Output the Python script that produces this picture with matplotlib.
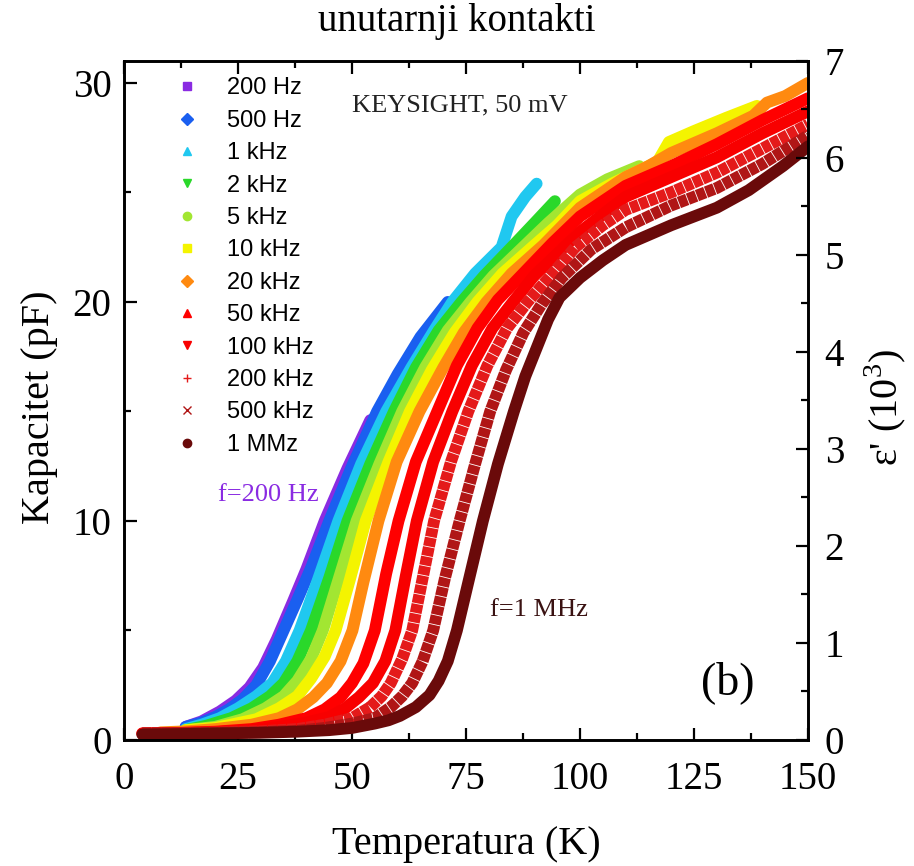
import matplotlib
matplotlib.use("Agg")
import matplotlib.pyplot as plt
from matplotlib.lines import Line2D
from matplotlib.ticker import MultipleLocator

# ---- data: temperature (K) and capacitance (pF) for each measuring frequency ----
labels = ["200 Hz", "500 Hz", "1 kHz", "2 kHz", "5 kHz", "10 kHz",
          "20 kHz", "50 kHz", "100 kHz", "200 kHz", "500 kHz", "1 MMz"]
colors = ["#8a2be2", "#1a5ff0", "#20c8f0", "#2ad82a", "#a2e632", "#f4f400",
          "#ff8a10", "#ff0000", "#f80000", "#e41a1a", "#b01616", "#6a0a0a"]
markers = ["s", "D", "^", "v", "o", "s", "D", "^", "v", "+", "x", "o"]

t_200hz = [13.5, 17, 21, 24.5, 27.5, 30.5, 33.5, 37, 40, 44, 49, 54]
c_200hz = [0.6, 0.85, 1.3, 1.8, 2.4, 3.3, 4.6, 6.3, 7.8, 10.0, 12.4, 14.6]

t_500hz = [13.5, 17, 20, 23, 26, 29, 32, 35, 38, 41, 45, 50, 55.5, 60, 65, 71]
c_500hz = [0.6, 0.8, 1.05, 1.4, 1.85, 2.5, 3.6, 5.0, 6.4, 7.85, 10.0, 12.5, 15.0, 16.7, 18.4, 20.0]

t_1khz = [13.5, 17, 21, 25, 29, 32.5, 35.5, 38.5, 42.5, 47, 52, 57.5, 63, 68, 72, 77,
          82.8, 85, 88, 90.5]
c_1khz = [0.5, 0.7, 1.0, 1.45, 2.0, 2.6, 3.6, 5.0, 7.3, 10.0, 12.6, 15.0, 17.0, 18.7, 20.0,
          21.3, 22.5, 23.9, 24.8, 25.4]

t_2khz = [13.5, 18, 23.5, 28, 32, 35, 38, 41, 45, 49, 54, 59.2, 64, 69, 74, 79, 85, 90, 94.5]
c_2khz = [0.45, 0.65, 1.0, 1.45, 2.0, 2.6, 3.6, 5.0, 7.4, 10.0, 12.6, 15.0, 17.0, 18.7, 20.0,
          21.2, 22.5, 23.6, 24.6]

t_5khz = [13.5, 20, 26, 31, 35, 38, 41, 43.6, 47, 51, 56, 61, 66, 71, 76, 81, 87.5, 93,
          100, 106, 113]
c_5khz = [0.45, 0.6, 0.95, 1.45, 2.0, 2.7, 3.7, 5.0, 7.3, 10.0, 12.6, 15.0, 17.0, 18.7, 20.0,
          21.2, 22.5, 23.6, 24.9, 25.6, 26.2]

t_10khz = [13.5, 20, 29, 34, 38, 41, 44, 46.4, 49.5, 53, 58, 62.7, 67.5, 72.5, 77.5, 83,
           89.5, 95, 100, 107, 113, 117, 119.5, 125, 132, 138.8]
c_10khz = [0.45, 0.55, 0.95, 1.45, 2.0, 2.8, 3.8, 5.0, 7.3, 10.0, 12.7, 15.0, 16.9, 18.6, 20.0,
           21.3, 22.5, 23.5, 24.6, 25.4, 26.0, 26.4, 27.3, 27.8, 28.4, 28.95]

t_20khz = [8, 14, 20, 28, 34, 38, 41.5, 44.5, 47.5, 50.1, 52.5, 55.8, 59.8, 64.8, 70, 74.5,
           79.5, 85, 92, 100, 110, 115, 120, 130, 138, 141, 145, 150]
c_20khz = [0.35, 0.4, 0.5, 0.7, 1.0, 1.4, 1.95, 2.6, 3.6, 5.0, 7.2, 10.0, 12.7, 15.0, 17.0,
           18.6, 20.0, 21.3, 22.6, 24.3, 25.7, 26.2, 26.8, 27.7, 28.5, 29.1, 29.4, 30.0]

t_50khz = [4, 12, 20, 28, 34, 40, 44, 47.5, 50, 52.5, 55, 57.5, 60.2, 64, 68.7, 73, 77.5,
           82, 88, 94, 100, 110, 120, 130, 140, 150]
c_50khz = [0.3, 0.32, 0.38, 0.5, 0.7, 1.0, 1.4, 1.95, 2.6, 3.5, 5.0, 7.6, 10.0, 12.7, 15.0,
           17.1, 18.8, 20.1, 21.4, 22.7, 23.9, 25.3, 26.2, 27.2, 28.3, 29.3]

t_100khz = [4, 12, 20, 28, 34, 40, 45, 48.5, 51.5, 54.6, 57.3, 59.5, 61.8, 64.2, 67.8, 72,
            76.3, 80.8, 85.3, 90, 96.5, 100, 110, 120, 130, 140, 150]
c_100khz = [0.3, 0.32, 0.36, 0.45, 0.6, 0.8, 1.05, 1.45, 1.95, 2.6, 3.6, 5.0, 7.5, 10.0, 12.7,
            15.0, 17.1, 18.8, 20.0, 21.2, 22.5, 23.2, 24.8, 25.7, 26.6, 27.7, 28.7]

t_200khz = [4, 12, 20, 30, 38, 44, 50, 54, 56.5, 58.5, 61, 63.2, 65.6, 68, 71.7, 75.5, 79.7,
            84, 88.5, 94, 99, 105, 110, 120, 130, 140, 150]
c_200khz = [0.3, 0.31, 0.34, 0.4, 0.5, 0.7, 1.0, 1.5, 2.0, 2.6, 3.7, 5.0, 7.5, 10.0, 12.7,
            15.0, 17.1, 18.8, 20.0, 21.3, 22.5, 23.5, 24.2, 25.0, 25.9, 27.0, 28.1]

t_500khz = [4, 12, 20, 30, 38, 44, 50, 55, 58.5, 61, 63.2, 65.5, 67.8, 70.4, 73.6, 77, 80.3,
            83.8, 87.6, 91.6, 96, 102.5, 110, 120, 130, 140, 150]
c_500khz = [0.3, 0.3, 0.32, 0.36, 0.42, 0.55, 0.75, 1.0, 1.5, 2.0, 2.6, 3.6, 5.0, 7.4, 10.0,
            12.6, 15.0, 16.9, 18.6, 19.9, 21.1, 22.4, 23.4, 24.4, 25.2, 26.3, 27.6]

t_1mhz = [4, 12, 20, 30, 38, 45, 50, 55, 58, 60.5, 64, 67, 69, 71, 73, 75.5, 78.7, 82,
          85.5, 88, 90.5, 93, 95.5, 100, 105, 110, 120, 130, 137, 144.5, 150]
c_1mhz = [0.25, 0.27, 0.3, 0.33, 0.38, 0.45, 0.55, 0.75, 0.9, 1.1, 1.5, 2.05, 2.7, 3.6, 5.0,
          7.2, 10.0, 12.6, 15.0, 16.6, 17.9, 19.2, 20.2, 21.1, 21.9, 22.6, 23.5, 24.3, 25.1,
          26.2, 27.1]

temps = [t_200hz, t_500hz, t_1khz, t_2khz, t_5khz, t_10khz,
         t_20khz, t_50khz, t_100khz, t_200khz, t_500khz, t_1mhz]
caps = [c_200hz, c_500hz, c_1khz, c_2khz, c_5khz, c_10khz,
        c_20khz, c_50khz, c_100khz, c_200khz, c_500khz, c_1mhz]

# conversion between capacitance and permittivity axis
C_MAX = 31.0
EPS_MAX = 7.0

serif = "Liberation Serif"
sans = "Liberation Sans"
plt.rcParams["mathtext.fontset"] = "custom"
plt.rcParams["mathtext.rm"] = serif

fig = plt.figure(figsize=(9.14, 8.66), dpi=100)
ax = fig.add_axes([0.1357, 0.1455, 0.7483, 0.7841])

for t, c, col, lab in zip(temps, caps, colors, labels):
    if lab in ("200 kHz", "500 kHz"):
        # dense cross-shaped symbols give these bands a finely hatched look
        ax.plot(t, c, color=col, lw=8.5, dash_capstyle="butt", dash_joinstyle="round",
                linestyle=(0, (0.75, 0.07)))
    else:
        ax.plot(t, c, color=col, lw=8.5, solid_capstyle="round",
                solid_joinstyle="round")

ax.set_xlim(0, 150)
ax.set_ylim(0, C_MAX)
ax.xaxis.set_major_locator(MultipleLocator(25))
ax.xaxis.set_minor_locator(MultipleLocator(12.5))
ax.yaxis.set_major_locator(MultipleLocator(10))
ax.yaxis.set_minor_locator(MultipleLocator(5))

ax2 = ax.twinx()
ax2.set_ylim(0, EPS_MAX)
ax2.yaxis.set_major_locator(MultipleLocator(1))
ax2.yaxis.set_minor_locator(MultipleLocator(0.5))

for a in (ax, ax2):
    for s in a.spines.values():
        s.set_linewidth(1.9)
ax.tick_params(axis="both", which="major", direction="in", length=9, width=1.6,
               top=True, right=False, labelsize=28)
ax.tick_params(axis="x", which="major", pad=15)
ax.tick_params(axis="y", which="major", pad=9)
ax.tick_params(axis="both", which="minor", direction="in", length=5, width=1.6,
               top=True, right=False)
ax2.tick_params(axis="y", which="major", direction="in", length=9, width=1.6,
                labelsize=28, pad=12)
ax2.tick_params(axis="y", which="minor", direction="in", length=5, width=1.6)
for lbl in ax.get_xticklabels() + ax.get_yticklabels() + ax2.get_yticklabels():
    lbl.set_fontfamily(serif)

ax.set_xlabel("Temperatura (K)", fontsize=29, fontfamily=serif)
ax.set_ylabel("Kapacitet (pF)", fontsize=29, fontfamily=serif)
ax2.set_ylabel(r"ε' (10$^3$)", fontsize=29, fontfamily=serif, rotation=90)
ax.xaxis.set_label_coords(0.5, -0.127)
ax.yaxis.set_label_coords(-0.096, 0.49)
ax2.yaxis.set_label_coords(1.079, 0.49)

fig.text(0.5, 0.975, "unutarnji kontakti", ha="center", va="center",
         fontsize=28, fontfamily=serif)

ax.text(0.333, 0.935, "KEYSIGHT, 50 mV", transform=ax.transAxes, fontsize=19,
        fontfamily=serif, ha="left", va="center", color="#222222")
ax.text(0.137, 0.361, "f=200 Hz", transform=ax.transAxes, fontsize=19,
        fontfamily=serif, ha="left", va="center", color="#8a2be2")
ax.text(0.535, 0.191, "f=1 MHz", transform=ax.transAxes, fontsize=19,
        fontfamily=serif, ha="left", va="center", color="#3a1212")
ax.text(0.882, 0.085, "(b)", transform=ax.transAxes, fontsize=33,
        fontfamily=serif, ha="center", va="center")

handles = [Line2D([], [], linestyle="none", marker=m, color=c, markersize=6,
                  markeredgewidth=1.0) for m, c in zip(markers, colors)]
leg = ax.legend(handles, labels, loc="upper left", bbox_to_anchor=(0.05, 1.0),
                frameon=False, prop={"family": sans, "size": 17},
                handlelength=1.0, handletextpad=1.2, labelspacing=0.44,
                borderaxespad=0.3)

fig.savefig("out.png", dpi=100)
